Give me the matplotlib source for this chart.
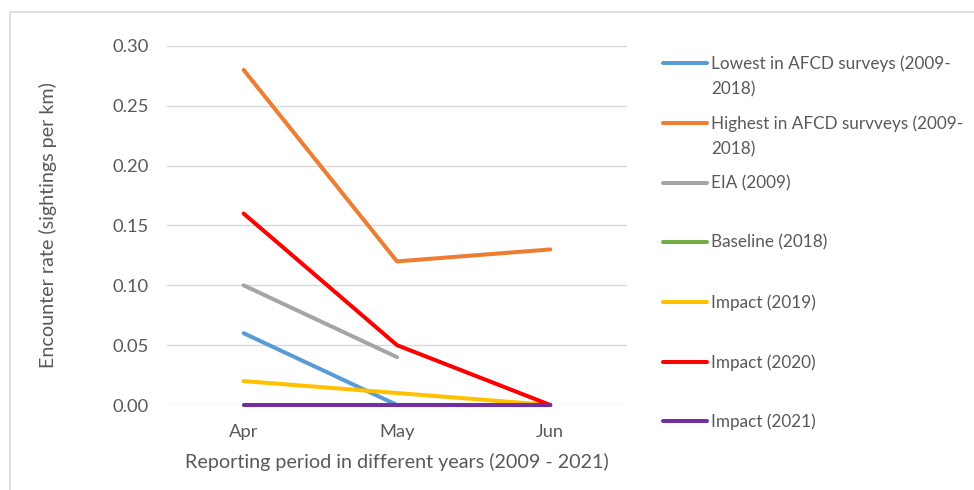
import matplotlib
matplotlib.use('Agg')
import matplotlib.pyplot as plt
from matplotlib.patches import Rectangle
from matplotlib.lines import Line2D
import numpy as np

plt.rcParams['font.family'] = ['Lato', 'DejaVu Sans']

# ---- data ----
months = ['Apr', 'May', 'Jun']
lowest_afcd = [0.06, 0.00, 0.00]
highest_afcd = [0.28, 0.12, 0.13]
eia_2009 = [0.10, 0.04, np.nan]
baseline_2018 = [0.00, 0.00, 0.00]
impact_2019 = [0.02, 0.01, 0.00]
impact_2020 = [0.16, 0.05, 0.00]
impact_2021 = [0.00, 0.00, 0.00]

series_labels = ['Lowest in AFCD surveys (2009-\n2018)',
                 'Highest in AFCD survveys (2009-\n2018)',
                 'EIA (2009)', 'Baseline (2018)',
                 'Impact (2019)', 'Impact (2020)', 'Impact (2021)']
series_values = [lowest_afcd, highest_afcd, eia_2009, baseline_2018,
                 impact_2019, impact_2020, impact_2021]
colors = ['#5B9BD5', '#ED7D31', '#A5A5A5', '#70AD47',
          '#FFC000', '#FF0000', '#7030A0']

text_color = '#595959'
grid_color = '#D9D9D9'
lw = 2.9

W, H = 974, 490
fig = plt.figure(figsize=(W / 100, H / 100), dpi=100)

# chart frame (only top/left edges fall inside the image)
fig.patches.append(Rectangle((10 / W, -0.1), 1.1, (H - 12) / H + 0.1,
                             transform=fig.transFigure, fill=False,
                             edgecolor=grid_color, linewidth=1.2))

# plot area in pixels
x0, x1 = 167, 627
y_top, y_bot = 46, 405
ax = fig.add_axes([x0 / W, 1 - y_bot / H, (x1 - x0) / W, (y_bot - y_top) / H])

x = np.arange(len(months))
for vals, c in zip(series_values, colors):
    ax.plot(x, vals, color=c, linewidth=lw, solid_capstyle='round',
            solid_joinstyle='round', clip_on=False)

ax.set_xlim(-0.5, len(months) - 0.5)
ax.set_ylim(0, 0.30)
ax.set_yticks(np.arange(0, 0.301, 0.05))
ax.set_yticklabels([f'{v:.2f}' for v in np.arange(0, 0.301, 0.05)])
ax.set_xticks(x)
ax.set_xticklabels(months)
ax.grid(axis='y', color=grid_color, linewidth=1.0)
ax.set_axisbelow(True)
for s in ax.spines.values():
    s.set_visible(False)
ax.tick_params(length=0, colors=text_color, labelsize=13.2)
ax.tick_params(axis='y', pad=13)
ax.tick_params(axis='x', pad=14)

ax.set_xlabel('Reporting period in different years (2009 - 2021)',
              fontsize=14.2, color=text_color, labelpad=9)
ax.set_ylabel('Encounter rate (sightings per km)',
              fontsize=14.2, color=text_color, labelpad=40)

# legend entries down the right side
leg_y = [63, 123, 183, 242, 302, 362, 421]
for ypx, lab, c in zip(leg_y, series_labels, colors):
    fy = 1 - ypx / H
    fig.add_artist(Line2D([663 / W, 707 / W], [fy, fy], transform=fig.transFigure,
                          color=c, linewidth=lw, solid_capstyle='round'))
    fig.text(711 / W, fy + 8 / H, lab, ha='left', va='top', fontsize=12.3,
             color=text_color, linespacing=1.75)

fig.savefig('out.png', dpi=100, facecolor='white')
